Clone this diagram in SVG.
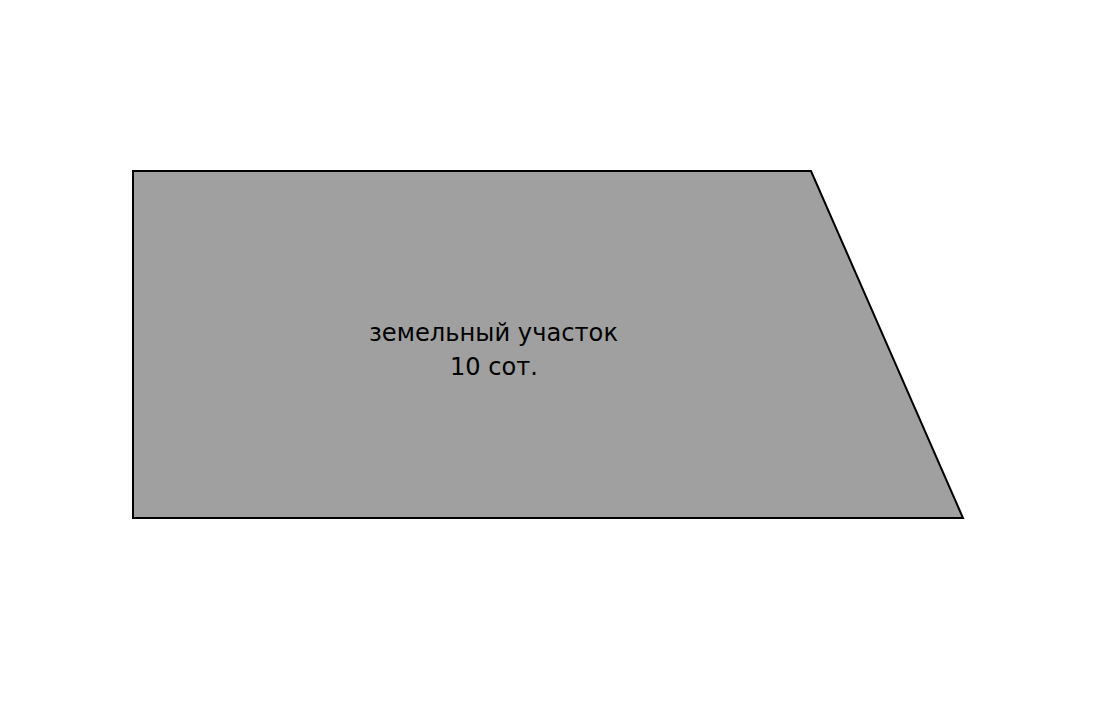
<svg xmlns="http://www.w3.org/2000/svg" width="1120" height="725" viewBox="0 0 1120 725">
<style>
.plot{fill:#a0a0a0;stroke:#000;stroke-width:2;stroke-linejoin:miter}
.lbl{font-family:"DejaVu Sans",sans-serif;font-size:25px;fill:#000;text-anchor:middle}
</style>
<rect width="1120" height="725" fill="#fff"/>
<g id="plot">
<polygon class="plot" points="133,171 811,171 963,518 133,518"/>
<text class="lbl" x="493.5" y="341" textLength="249" lengthAdjust="spacingAndGlyphs">земельный участок</text>
<text class="lbl" x="494" y="375" textLength="88" lengthAdjust="spacingAndGlyphs">10 сот.</text>
</g>
</svg>
